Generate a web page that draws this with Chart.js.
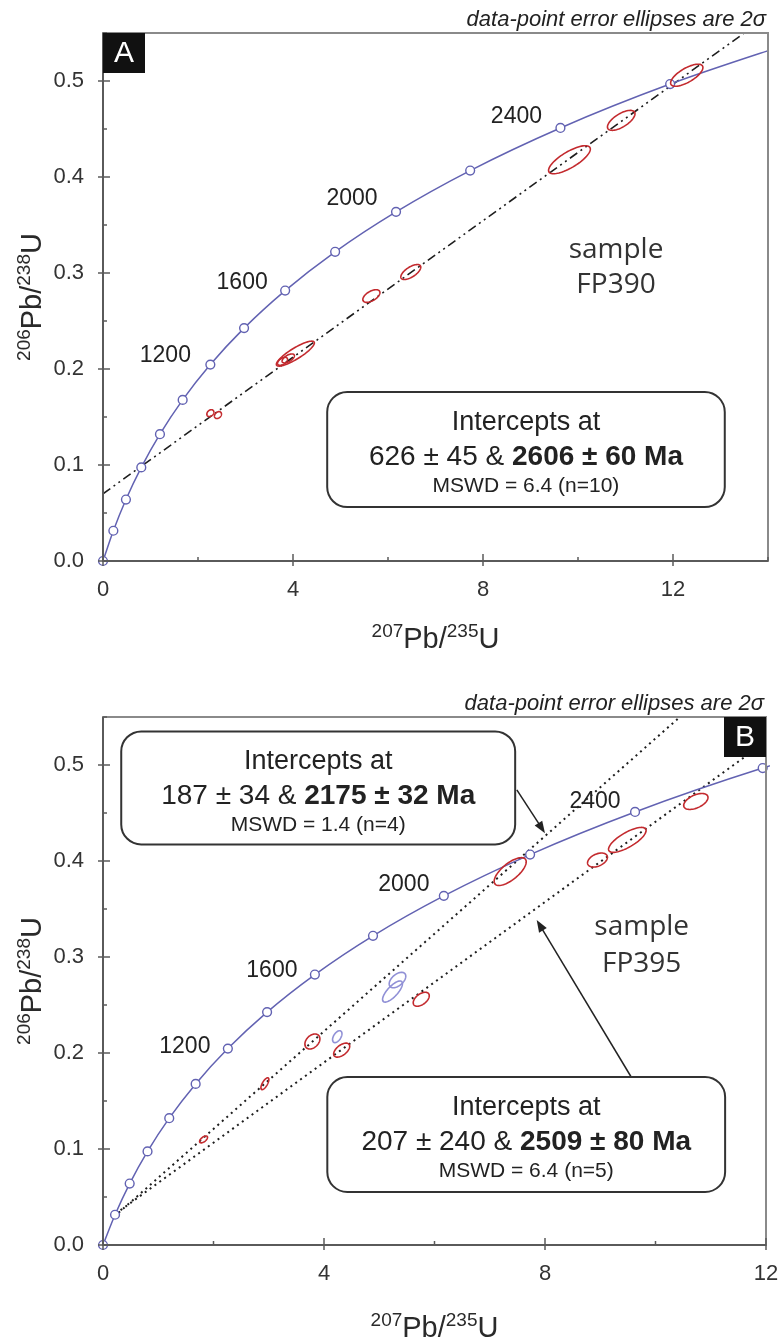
<!DOCTYPE html>
<html>
<head>
<meta charset="utf-8">
<script src="https://cdn.jsdelivr.net/npm/chart.js@4.4.1/dist/chart.umd.min.js"></script>
<style>
  html, body { margin: 0; padding: 0; background: #fff; }
  #wrapA { position: absolute; left: 0; top: 0; width: 782px; height: 660px; }
  #wrapB { position: absolute; left: 0; top: 660px; width: 782px; height: 682px; }
</style>
</head>
<body>
<div id="wrapA"><canvas id="chartA"></canvas></div>
<div id="wrapB"><canvas id="chartB"></canvas></div>
<script>
// concordia curve, one marker every 200 Ma
const concAge = [0, 200, 400, 600, 800, 1000, 1200, 1400, 1600, 1800, 2000, 2200, 2400, 2600, 2800];
const concX = [0, 0.218, 0.483, 0.806, 1.199, 1.677, 2.260, 2.970, 3.835, 4.887, 6.169, 7.730, 9.630, 11.94, 14.76];
const concY = [0, 0.0315, 0.0640, 0.0975, 0.1321, 0.1678, 0.2046, 0.2426, 0.2817, 0.3221, 0.3637, 0.4067, 0.4511, 0.4968, 0.5440];
const ageLabels = [1200, 1600, 2000, 2400];

const xTicks = [0, 4, 8, 12];
const yTicks = [0, 0.1, 0.2, 0.3, 0.4, 0.5];

// panel A - sample FP390
const discAX = [0, 13.5];
const discAY = [0.070, 0.550];
const ellAX   = [9.82, 10.91, 12.29, 6.48, 5.65, 4.05, 3.78, 3.90, 2.26, 2.42];
const ellAY   = [0.418, 0.459, 0.506, 0.301, 0.276, 0.216, 0.208, 0.211, 0.154, 0.152];
const ellASx  = [0.44, 0.29, 0.34, 0.21, 0.18, 0.40, 0.105, 0.13, 0.074, 0.074];
const ellASy  = [0.0146, 0.0104, 0.0115, 0.0078, 0.0066, 0.013, 0.0042, 0.0047, 0.0036, 0.0036];
const ellARho = [0.76, 0.66, 0.7, 0.65, 0.55, 0.86, 0.5, 0.6, 0.3, 0.3];

// panel B - sample FP395
const disc1BX = [0.20, 10.44];
const disc1BY = [0.0294, 0.550];
const disc2BX = [0.23, 12.0];
const disc2BY = [0.0326, 0.5245];
const ellBX   = [1.82, 2.93, 3.79, 7.37, 4.32, 5.76, 8.95, 9.49, 10.73];
const ellBY   = [0.110, 0.168, 0.212, 0.389, 0.203, 0.256, 0.401, 0.422, 0.462];
const ellBSx  = [0.072, 0.072, 0.136, 0.29, 0.145, 0.145, 0.18, 0.34, 0.22];
const ellBSy  = [0.0036, 0.0062, 0.0078, 0.0145, 0.0073, 0.0073, 0.0073, 0.013, 0.0083];
const ellBRho = [0.6, 0.7, 0.35, 0.7, 0.55, 0.5, 0.4, 0.75, 0.5];
// rejected analyses (blue)
const rejBX   = [4.24, 5.33, 5.24];
const rejBY   = [0.217, 0.276, 0.264];
const rejBSx  = [0.085, 0.15, 0.18];
const rejBSy  = [0.0062, 0.008, 0.011];
const rejBRho = [0.5, 0.5, 0.75];

const SANS = "'Liberation Sans', Arial, Helvetica, sans-serif";
const OPEN = "'Open Sans', 'Noto Sans', sans-serif";
const BLUE = '#6262b2';
const RED = '#c32a2e';

Chart.defaults.font.family = SANS;

const pts = (xs, ys) => xs.map((x, i) => ({ x: x, y: ys[i] }));
const ells = (xs, ys, sx, sy, r) => xs.map((x, i) => ({ x: x, y: ys[i], sx: sx[i], sy: sy[i], r: r[i] }));

// annotation settings per panel (kept apart from the data)
const panels = {
    chartA: {
        letter: 'A', letterLeft: true, titleDy: 77,
        ageOffsets: [[-45, -9], [-43, -8], [-44, -13], [-44, -11]],
        sample: { x: 10.8, y: 0.324, y2: 0.2875, name: 'FP390' },
        boxes: [{ x1: 4.72, x2: 13.09, y1: 0.176, h: 115,
                  a: '626 ± 45 & ', b: '2606 ± 60 Ma', c: 'MSWD = 6.4 (n=10)' }],
        arrows: []
    },
    chartB: {
        letter: 'B', letterLeft: false, titleDy: 82,
        ageOffsets: [[-43, -2], [-43, -4], [-40, -11], [-40, -10]],
        sample: { x: 9.75, y: 0.331, y2: 0.293, name: 'FP395' },
        boxes: [{ x1: 0.33, x2: 7.46, y1: 0.535, h: 113,
                  a: '187 ± 34 & ', b: '2175 ± 32 Ma', c: 'MSWD = 1.4 (n=4)' },
                { x1: 4.06, x2: 11.26, y1: 0.175, h: 115,
                  a: '207 ± 240 & ', b: '2509 ± 80 Ma', c: 'MSWD = 6.4 (n=5)' }],
        arrows: [[7.49, 0.474, 8.0, 0.429], [9.56, 0.175, 7.85, 0.3385]]
    }
};

function richWidth(ctx, parts) {
    let w = 0;
    parts.forEach(p => { ctx.font = p.font; w += ctx.measureText(p.t).width; });
    return w;
}

function drawRich(ctx, parts, cx, baseY) {
    let x = cx - richWidth(ctx, parts) / 2;
    ctx.textAlign = 'left';
    ctx.textBaseline = 'alphabetic';
    parts.forEach(p => {
        ctx.font = p.font;
        ctx.fillText(p.t, x, baseY - (p.rise || 0));
        x += ctx.measureText(p.t).width;
    });
}

function roundBox(ctx, x, y, w, h, r) {
    ctx.beginPath();
    ctx.moveTo(x + r, y);
    ctx.arcTo(x + w, y, x + w, y + h, r);
    ctx.arcTo(x + w, y + h, x, y + h, r);
    ctx.arcTo(x, y + h, x, y, r);
    ctx.arcTo(x, y, x + w, y, r);
    ctx.closePath();
}

function titleParts(a, b) {
    const big = '29px ' + SANS, small = '19px ' + SANS;
    return [{ t: a, font: small, rise: 11 }, { t: 'Pb/', font: big },
            { t: b, font: small, rise: 11 }, { t: 'U', font: big }];
}

const notesPlugin = {
    id: 'notes',
    afterDatasetsDraw(chart) {
        // error ellipses, traced through the chart's scales
        const ctx = chart.ctx, xs = chart.scales.x, ys = chart.scales.y;
        chart.data.datasets.forEach(ds => {
            if (!ds.isEllipse) return;
            ctx.save();
            ctx.strokeStyle = ds.ellColor;
            ctx.lineWidth = 1.6;
            ds.data.forEach(e => {
                ctx.beginPath();
                for (let k = 0; k <= 72; k++) {
                    const th = k / 72 * Math.PI * 2;
                    const dx = e.sx * Math.cos(th);
                    const dy = e.sy * (e.r * Math.cos(th) + Math.sqrt(1 - e.r * e.r) * Math.sin(th));
                    const px = xs.getPixelForValue(e.x + dx), py = ys.getPixelForValue(e.y + dy);
                    if (k === 0) ctx.moveTo(px, py); else ctx.lineTo(px, py);
                }
                ctx.closePath();
                ctx.stroke();
            });
            ctx.restore();
        });
    },
    afterDraw(chart) {
        const ctx = chart.ctx, a = chart.chartArea, xs = chart.scales.x, ys = chart.scales.y;
        const cfg = panels[chart.canvas.id];
        ctx.save();

        // frame
        ctx.lineWidth = 2;
        ctx.strokeStyle = '#8a8a8a';
        ctx.strokeRect(a.left, a.top, a.right - a.left, a.bottom - a.top);
        ctx.strokeStyle = '#5a5a5a';
        ctx.beginPath();
        ctx.moveTo(a.left, a.top); ctx.lineTo(a.left, a.bottom); ctx.lineTo(a.right, a.bottom);
        ctx.stroke();

        // tick marks: majors cross the axis, minors point inward
        ctx.lineWidth = 1.5;
        xs.ticks.forEach(t => {
            const px = xs.getPixelForValue(t.value), major = t.label !== '';
            ctx.beginPath();
            ctx.moveTo(px, a.bottom + (major ? 5 : 0));
            ctx.lineTo(px, a.bottom - (major ? 7 : 4));
            ctx.stroke();
        });
        ys.ticks.forEach(t => {
            const py = ys.getPixelForValue(t.value), major = t.label !== '';
            ctx.beginPath();
            ctx.moveTo(a.left - (major ? 5 : 0), py);
            ctx.lineTo(a.left + (major ? 7 : 4), py);
            ctx.stroke();
        });

        // axis titles
        ctx.fillStyle = '#2a2a2a';
        drawRich(ctx, titleParts('207', '235'), (a.left + a.right) / 2, a.bottom + cfg.titleDy + 10);
        ctx.save();
        ctx.translate(31, (a.top + a.bottom) / 2);
        ctx.rotate(-Math.PI / 2);
        drawRich(ctx, titleParts('206', '238'), 0, 10);
        ctx.restore();

        // caption above the frame
        ctx.fillStyle = '#222';
        ctx.font = 'italic 22px ' + SANS;
        ctx.textAlign = 'right';
        ctx.textBaseline = 'middle';
        ctx.fillText('data-point error ellipses are 2σ', a.right - 2, a.top - 13);

        // age labels next to the concordia markers
        ctx.font = '23px ' + SANS;
        ctx.textAlign = 'center';
        ageLabels.forEach((age, i) => {
            const k = concAge.indexOf(age);
            const px = xs.getPixelForValue(concX[k]), py = ys.getPixelForValue(concY[k]);
            ctx.fillText(String(age), px + cfg.ageOffsets[i][0], py + cfg.ageOffsets[i][1]);
        });

        // sample name
        ctx.fillStyle = '#333';
        ctx.font = '28px ' + OPEN;
        ctx.fillText('sample', xs.getPixelForValue(cfg.sample.x), ys.getPixelForValue(cfg.sample.y));
        ctx.fillText(cfg.sample.name, xs.getPixelForValue(cfg.sample.x), ys.getPixelForValue(cfg.sample.y2));

        // arrows
        ctx.strokeStyle = '#222';
        ctx.fillStyle = '#222';
        ctx.lineWidth = 1.5;
        cfg.arrows.forEach(ar => {
            const x1 = xs.getPixelForValue(ar[0]), y1 = ys.getPixelForValue(ar[1]);
            const x2 = xs.getPixelForValue(ar[2]), y2 = ys.getPixelForValue(ar[3]);
            const ang = Math.atan2(y2 - y1, x2 - x1);
            ctx.beginPath(); ctx.moveTo(x1, y1); ctx.lineTo(x2 - 8 * Math.cos(ang), y2 - 8 * Math.sin(ang)); ctx.stroke();
            ctx.beginPath();
            ctx.moveTo(x2, y2);
            ctx.lineTo(x2 - 12 * Math.cos(ang) + 4.5 * Math.sin(ang), y2 - 12 * Math.sin(ang) - 4.5 * Math.cos(ang));
            ctx.lineTo(x2 - 12 * Math.cos(ang) - 4.5 * Math.sin(ang), y2 - 12 * Math.sin(ang) + 4.5 * Math.cos(ang));
            ctx.closePath();
            ctx.fill();
        });

        // intercept boxes
        cfg.boxes.forEach(b => {
            const bx = xs.getPixelForValue(b.x1), by = ys.getPixelForValue(b.y1);
            const bw = xs.getPixelForValue(b.x2) - bx, cx = bx + bw / 2;
            roundBox(ctx, bx, by, bw, b.h, 20);
            ctx.fillStyle = '#fff';
            ctx.fill();
            ctx.lineWidth = 2;
            ctx.strokeStyle = '#333';
            ctx.stroke();
            ctx.fillStyle = '#222';
            drawRich(ctx, [{ t: 'Intercepts at', font: '27px ' + SANS }], cx, by + 38);
            drawRich(ctx, [{ t: b.a, font: '28px ' + SANS }, { t: b.b, font: 'bold 28px ' + SANS }], cx, by + 73);
            drawRich(ctx, [{ t: b.c, font: '21px ' + SANS }], cx, by + 100);
        });

        // panel letter
        const lx = cfg.letterLeft ? a.left : a.right - 42;
        ctx.fillStyle = '#111';
        ctx.fillRect(lx, a.top, 42, 40);
        ctx.fillStyle = '#fff';
        ctx.font = '30px ' + SANS;
        ctx.textAlign = 'center';
        ctx.textBaseline = 'middle';
        ctx.fillText(cfg.letter, lx + 21, a.top + 21);

        ctx.restore();
    }
};

function concordiaSet(clipRight) {
    return {
        label: 'concordia',
        data: pts(concX, concY),
        showLine: true,
        borderColor: BLUE,
        borderWidth: 1.5,
        pointRadius: 4.4,
        pointBorderWidth: 1.4,
        pointBackgroundColor: '#fff',
        pointBorderColor: BLUE,
        cubicInterpolationMode: 'monotone',
        clip: { left: 6, bottom: 6, top: 0, right: clipRight },
        order: 0
    };
}

function lineSet(xs, ys, dash) {
    return { data: pts(xs, ys), showLine: true, borderColor: '#1e1e1e', borderWidth: dash.length > 2 ? 1.6 : 2,
             borderDash: dash, pointRadius: 0, order: 1 };
}

function ellipseSet(data, color) {
    return { data: data, showLine: false, pointRadius: 0, isEllipse: true, ellColor: color, order: 2 };
}

function makePanel(id, datasets, xMax, padTop, padRight, xAxisH) {
    return new Chart(document.getElementById(id), {
        type: 'scatter',
        data: { datasets: datasets },
        options: {
            responsive: true,
            maintainAspectRatio: false,
            animation: false,
            layout: { padding: { top: padTop, right: padRight, left: 0, bottom: 0 } },
            plugins: { legend: { display: false }, tooltip: { enabled: false } },
            scales: {
                x: {
                    type: 'linear', min: 0, max: xMax,
                    border: { display: false },
                    grid: { display: false, drawTicks: false },
                    ticks: {
                        stepSize: 2, autoSkip: false, padding: 16, color: '#333', font: { size: 22 },
                        callback: v => (xTicks.includes(v) ? String(v) : '')
                    },
                    afterFit: s => { s.height = xAxisH; s.paddingLeft = 0; s.paddingRight = 0; }
                },
                y: {
                    type: 'linear', min: 0, max: 0.55,
                    border: { display: false },
                    grid: { display: false, drawTicks: false },
                    ticks: {
                        stepSize: 0.05, autoSkip: false, padding: 19, color: '#333', font: { size: 22 },
                        callback: v => (yTicks.some(t => Math.abs(t - v) < 1e-6) ? v.toFixed(1) : '')
                    },
                    afterFit: s => { s.width = 103; s.paddingTop = 0; s.paddingBottom = 0; }
                }
            }
        },
        plugins: [notesPlugin]
    });
}

makePanel('chartA', [
    concordiaSet(0),
    lineSet(discAX, discAY, [9, 4, 2, 4, 2, 4]),
    ellipseSet(ells(ellAX, ellAY, ellASx, ellASy, ellARho), RED)
], 14, 33, 14, 99);

makePanel('chartB', [
    concordiaSet(4),
    lineSet(disc1BX, disc1BY, [2, 4]),
    lineSet(disc2BX, disc2BY, [2, 4]),
    ellipseSet(ells(ellBX, ellBY, ellBSx, ellBSy, ellBRho), RED),
    ellipseSet(ells(rejBX, rejBY, rejBSx, rejBSy, rejBRho), '#9090d6')
], 12, 57, 16, 97);
</script>
</body>
</html>
